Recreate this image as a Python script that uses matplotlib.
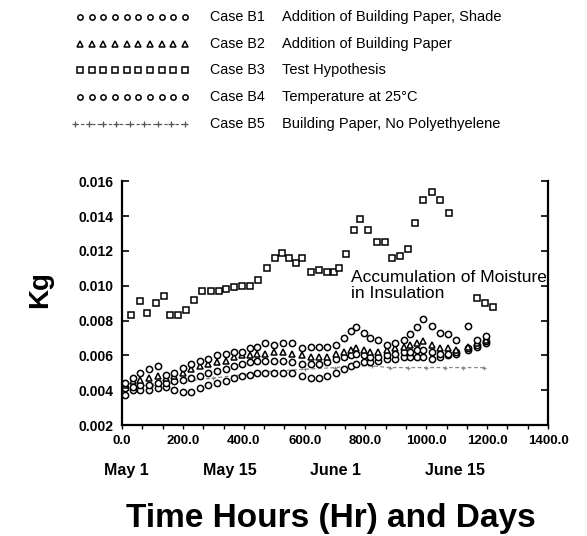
import numpy as np
import matplotlib
matplotlib.use("Agg")
import matplotlib.pyplot as plt
from matplotlib import font_manager
from matplotlib.ticker import MultipleLocator, FormatStrFormatter

# fonts: narrow one for legend / note if it is there
names = {f.name for f in font_manager.fontManager.ttflist}
NARROW = 'Liberation Sans Narrow' if 'Liberation Sans Narrow' in names else 'Liberation Sans'
scale = 1.2 if NARROW == 'Liberation Sans Narrow' else 1.0
plt.rcParams['font.family'] = ['Liberation Sans', 'DejaVu Sans']

# ---- data (hours, kg) ----
hours = [10, 35, 60, 90, 118, 145, 170, 200, 228, 255, 283, 312, 340, 368, 395,
         420, 445, 470, 500, 530, 560, 590, 620, 648, 675, 702, 729, 751, 770,
         794, 816, 841, 870, 898, 925, 947, 968, 990, 1017, 1045, 1072, 1099,
         1137, 1165, 1195]

b1 = [0.0044, 0.0047, 0.0050, 0.0052, 0.0054, 0.0049, 0.0050, 0.0053, 0.0055,
      0.0057, 0.0058, 0.0060, 0.0061, 0.0062, 0.0062, 0.0064, 0.0065, 0.0067,
      0.0066, 0.0067, 0.0067, 0.0064, 0.0065, 0.0065, 0.0065, 0.0066, 0.0070,
      0.0074, 0.0076, 0.0073, 0.0070, 0.0069, 0.0066, 0.0067, 0.0069, 0.0072,
      0.0076, 0.0081, 0.0077, 0.0073, 0.0072, 0.0069, 0.0077, 0.0069, 0.0071]

b2 = [0.0043, 0.0045, 0.0046, 0.0047, 0.0048, 0.0047, 0.0048, 0.0050, 0.0052,
      0.0054, 0.0055, 0.0056, 0.0057, 0.0059, 0.0060, 0.0060, 0.0061, 0.0061,
      0.0062, 0.0062, 0.0061, 0.0060, 0.0059, 0.0059, 0.0059, 0.0061, 0.0062,
      0.0063, 0.0064, 0.0063, 0.0062, 0.0062, 0.0063, 0.0064, 0.0065, 0.0066,
      0.0067, 0.0068, 0.0066, 0.0064, 0.0064, 0.0063, 0.0065, 0.0067, 0.0069]

b4 = [0.0041, 0.0042, 0.0043, 0.0043, 0.0044, 0.0044, 0.0045, 0.0046, 0.0047,
      0.0048, 0.0050, 0.0051, 0.0052, 0.0054, 0.0055, 0.0056, 0.0057, 0.0057,
      0.0057, 0.0057, 0.0056, 0.0055, 0.0055, 0.0055, 0.0056, 0.0058, 0.0059,
      0.0060, 0.0061, 0.0060, 0.0059, 0.0059, 0.0060, 0.0061, 0.0062, 0.0062,
      0.0063, 0.0063, 0.0062, 0.0061, 0.0061, 0.0062, 0.0064, 0.0066, 0.0068]

# lowest band of circles
b_low = [0.0037, 0.0040, 0.0040, 0.0040, 0.0041, 0.0042, 0.0040, 0.0039, 0.0039,
         0.0041, 0.0043, 0.0044, 0.0045, 0.0047, 0.0048, 0.0049, 0.0050, 0.0050,
         0.0050, 0.0050, 0.0050, 0.0048, 0.0047, 0.0047, 0.0048, 0.0050, 0.0052,
         0.0054, 0.0055, 0.0056, 0.0056, 0.0057, 0.0058, 0.0058, 0.0059, 0.0059,
         0.0059, 0.0059, 0.0058, 0.0059, 0.0060, 0.0061, 0.0063, 0.0065, 0.0067]

b3_hours = [28, 59, 83, 110, 137, 159, 184, 209, 235, 262, 293, 318, 343, 367,
            393, 421, 448, 475, 502, 527, 549, 571, 592, 620, 647, 674, 696, 712,
            736, 761, 783, 808, 838, 865, 887, 914, 941, 963, 990, 1017, 1045,
            1074, 1168, 1192, 1219]
b3 = [0.0083, 0.0091, 0.00845, 0.0090, 0.0094, 0.0083, 0.0083, 0.0086, 0.0092,
      0.0097, 0.0097, 0.0097, 0.0098, 0.0099, 0.0100, 0.0100, 0.0103, 0.0110,
      0.0116, 0.0119, 0.0116, 0.0113, 0.0116, 0.0108, 0.0109, 0.0108, 0.0108,
      0.0110, 0.0118, 0.0132, 0.0138, 0.0132, 0.0125, 0.0125, 0.0116, 0.0117,
      0.0121, 0.0136, 0.0149, 0.0154, 0.0149, 0.0142, 0.0093, 0.0090, 0.0088]

b5_hours = [10, 100, 200, 300, 400, 500, 600, 700, 760, 820, 880, 940, 1000,
            1060, 1120, 1190]
b5 = [0.0042, 0.0043, 0.0045, 0.0047, 0.0049, 0.0051, 0.0052, 0.0053, 0.0054,
      0.0054, 0.0053, 0.0053, 0.0053, 0.0053, 0.0053, 0.0053]

cases = ['Case B1', 'Case B2', 'Case B3', 'Case B4', 'Case B5']
descr = ['Addition of Building Paper, Shade', 'Addition of Building Paper',
         'Test Hypothesis', 'Temperature at 25\u00b0C',
         'Building Paper, No Polyethyelene']
markers = ['o', '^', 's', 'o', '+']

day_labels = ['May 1', 'May 15', 'June 1', 'June 15']
day_hours = [15, 355, 700, 1095]

# ---- figure ----
fig = plt.figure(figsize=(5.87, 5.36), dpi=100)

# legend area drawn in pixel coordinates
leg = fig.add_axes([0, 0, 1, 1])
leg.set_xlim(0, 587)
leg.set_ylim(536, 0)
leg.axis('off')
rows = [17, 44, 70, 97, 124]
for i in range(5):
    y = rows[i]
    if markers[i] == '+':
        xs = np.linspace(75, 185, 9)
        leg.plot(xs, [y] * len(xs), color='#555555', linestyle=(0, (3, 2)),
                 linewidth=0.8, marker='+', markersize=4, markeredgewidth=0.9)
    else:
        xs = np.linspace(80, 185, 10)
        leg.plot(xs, [y] * len(xs), linestyle='none', marker=markers[i],
                 markersize=3.8, markerfacecolor='white', markeredgecolor='black',
                 markeredgewidth=1.1)
    leg.text(210, y, cases[i], fontsize=10.3 * scale, family=NARROW, va='center')
    leg.text(282, y, descr[i], fontsize=10.5 * scale, family=NARROW, va='center')

ax = fig.add_axes([0.208, 0.207, 0.7256, 0.455])
mk = dict(linestyle='none', markerfacecolor='white', markeredgecolor='black',
          markeredgewidth=1.1, clip_on=False)

ax.plot(b5_hours, b5, color='#888888', linestyle=(0, (3, 2)), linewidth=0.9,
        marker='+', markersize=3.5, markeredgewidth=0.8, zorder=2)
ax.plot(hours, b_low, marker='o', markersize=4.5, zorder=3, **mk)
ax.plot(hours, b4, marker='o', markersize=4.5, zorder=3, **mk)
ax.plot(hours, b2, marker='^', markersize=4.5, zorder=3, **mk)
ax.plot(hours, b1, marker='o', markersize=4.5, zorder=3, **mk)
ax.plot(b3_hours, b3, marker='s', markersize=4.8, zorder=3, **mk)

ax.set_xlim(0, 1400)
ax.set_ylim(0.002, 0.016)
ax.spines['top'].set_visible(False)
for s in ['left', 'right', 'bottom']:
    ax.spines[s].set_linewidth(1.6)

ax.xaxis.set_major_locator(MultipleLocator(200))
ax.xaxis.set_minor_locator(MultipleLocator(200 / 3))
ax.xaxis.set_major_formatter(FormatStrFormatter('%.1f'))
ax.yaxis.set_major_locator(MultipleLocator(0.002))
ax.yaxis.set_major_formatter(FormatStrFormatter('%.3f'))

ax.tick_params(axis='y', which='major', direction='in', length=5, width=1.2,
               right=True, labelsize=10, pad=6)
ax.tick_params(axis='x', which='both', direction='out', length=3, width=1.0,
               labelsize=9.5, pad=4)
for lab in ax.get_yticklabels() + ax.get_xticklabels():
    lab.set_fontweight('bold')

for lab, h in zip(day_labels, day_hours):
    ax.text(h, -0.185, lab, transform=ax.get_xaxis_transform(), ha='center',
            va='center', fontsize=11.5, fontweight='bold')

ax.text(752, 0.0100, 'Accumulation of Moisture\nin Insulation', family=NARROW,
        fontsize=12.5 * scale, va='center', ha='left', linespacing=1.1)

fig.text(0.068, 0.459, 'Kg', rotation=90, fontsize=20, fontweight='bold',
         ha='center', va='center')
fig.text(0.563, 0.033, 'Time Hours (Hr) and Days', fontsize=24,
         fontweight='bold', ha='center', va='center')

fig.savefig('out.png', dpi=100)
